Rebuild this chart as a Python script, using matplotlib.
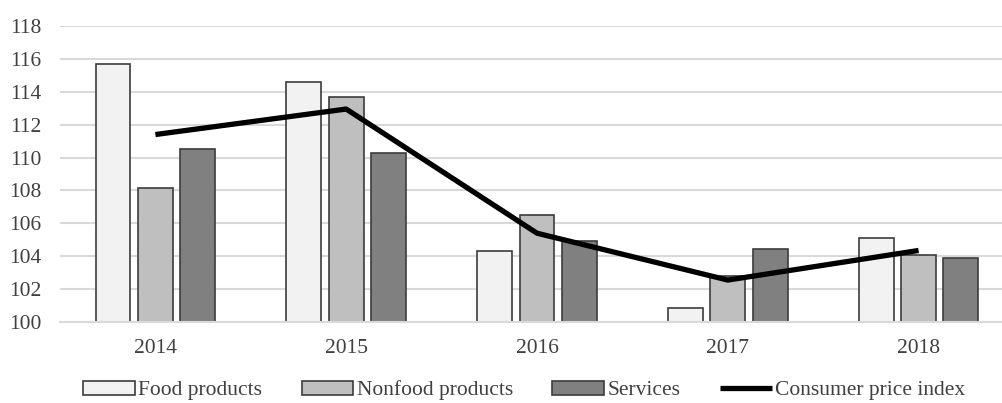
import matplotlib
matplotlib.use("Agg")
import matplotlib.pyplot as plt
import numpy as np

years = ["2014", "2015", "2016", "2017", "2018"]
food = [115.7, 114.6, 104.3, 100.85, 105.1]
nonfood = [108.15, 113.7, 106.5, 102.8, 104.1]
services = [110.55, 110.25, 104.9, 104.45, 103.9]
cpi = [111.4, 112.95, 105.4, 102.55, 104.35]
yticks = [100, 102, 104, 106, 108, 110, 112, 114, 116, 118]

plt.rcParams['font.family'] = ['Liberation Serif', 'DejaVu Serif']

W, H = 1003, 403
fig = plt.figure(figsize=(W / 100, H / 100), dpi=100)
ax = fig.add_axes([60 / W, 1 - 322 / H, (W - 60) / W, 296 / H])

x = np.arange(len(years))
bw = 0.183
off = 0.222
ec = '#3c3c3c'
b1 = ax.bar(x - off, [v - 100 for v in food], bw, bottom=100, color='#f2f2f2', edgecolor=ec, linewidth=1.2, label='Food products', zorder=2)
b2 = ax.bar(x, [v - 100 for v in nonfood], bw, bottom=100, color='#bfbfbf', edgecolor=ec, linewidth=1.2, label='Nonfood products', zorder=2)
b3 = ax.bar(x + off, [v - 100 for v in services], bw, bottom=100, color='#808080', edgecolor=ec, linewidth=1.2, label='Services', zorder=2)
l1, = ax.plot(x, cpi, color='black', linewidth=3.8, label='Consumer price index', zorder=3, solid_capstyle='butt')

ax.set_ylim(100, 118)
ax.set_xlim(-0.5, 4.5 - 11 / 191.25)
ax.set_yticks(yticks)
ax.set_xticks(x)
ax.set_xticklabels(years)
ax.yaxis.grid(True, color='#d9d9d9', linewidth=1.5, zorder=0)
ax.set_axisbelow(True)
for s in ['top', 'right', 'left']:
    ax.spines[s].set_visible(False)
ax.spines['bottom'].set_color('#d9d9d9')
ax.spines['bottom'].set_linewidth(1.5)
ax.tick_params(axis='both', length=0, labelsize=15.5, colors='#404040')
ax.tick_params(axis='y', pad=13.5)
ax.tick_params(axis='x', pad=12)

leg = fig.legend(handles=[b1, b2, b3, l1], loc='center', bbox_to_anchor=(524 / W, 1 - 390.5 / H),
                 ncol=4, frameon=False, fontsize=15.5, handlelength=2.4, handleheight=0.62,
                 handletextpad=0.15, columnspacing=1.84, borderaxespad=0)
for t in leg.get_texts():
    t.set_color('#404040')

fig.savefig('out.png', dpi=100)
